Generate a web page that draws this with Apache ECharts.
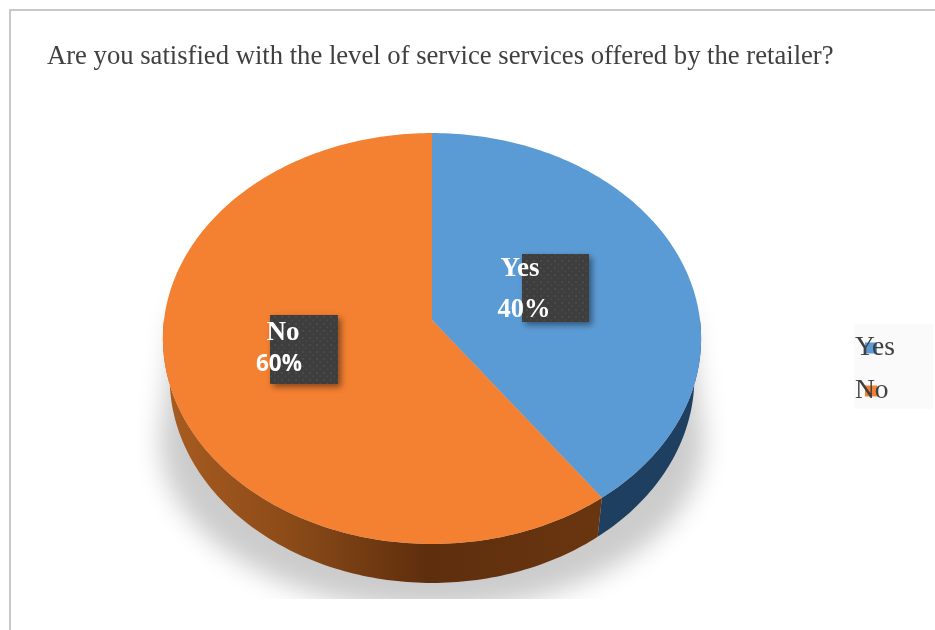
<!DOCTYPE html>
<html>
<head>
<meta charset="utf-8">
<style>html,body{margin:0;padding:0;background:#fff}#chart{width:935px;height:630px}</style>
<script src="https://cdn.jsdelivr.net/npm/echarts@6/dist/echarts.min.js"></script>
</head>
<body>
<div id="chart"></div>
<script>
// Survey answers
const titleText = 'Are you satisfied with the level of service services offered by the retailer?';
const categories = ['Yes', 'No'];
const values = [40, 60];
const topColors = ['#5B9BD5', '#F48031'];
const percentFonts = ['"Liberation Serif"', '"Open Sans"'];
const percentSizes = [26.5, 22.5];

// Perspective disc: a unit circle seen through a simple projective tilt
const CX = 432, CY = 320, A = 268, B = 203.8, K = 0.09, DEPTH = 39, BASE_SCALE = 0.975;
function project(deg) {
  const t = deg * Math.PI / 180;
  const u = Math.sin(t), v = -Math.cos(t);
  const w = 1 - K * v;
  return [CX + A * u / w, CY + B * v / w];
}
function arc(from, to) {
  const pts = [];
  const n = Math.max(2, Math.ceil(Math.abs(to - from)));
  for (let i = 0; i <= n; i++) pts.push(project(from + (to - from) * i / n));
  return pts;
}
// Lower edge of the rim: the same curve, dropped and narrowed by perspective
function baseArc(from, to) {
  return arc(from, to).map(p => [CX + (p[0] - CX) * BASE_SCALE, p[1] + DEPTH]);
}

// Faint dotted texture for the label plates
const dots = document.createElement('canvas');
dots.width = dots.height = 7;
const dc = dots.getContext('2d');
dc.fillStyle = '#3e3e3e';
dc.fillRect(0, 0, 7, 7);
dc.fillStyle = '#4a4a4a';
dc.fillRect(1, 1, 2, 2);
dc.fillRect(4.5, 4.5, 1.5, 1.5);

const sideFill = [
  '#1F3F60',
  {
    type: 'linear', x: 163, y: 0, x2: 604, y2: 0, global: true,
    colorStops: [
      { offset: 0, color: '#A95C20' },
      { offset: 0.3, color: '#8A4A18' },
      { offset: 0.6, color: '#5E2E0D' },
      { offset: 1, color: '#6A3610' }
    ]
  }
];
const plates = [[522, 254, 67, 68], [270, 315, 68, 69]];
const nameAt = [[520, 269], [283, 333]];
const percentAt = [[524, 310], [279, 365]];

const total = values.reduce((a, b) => a + b, 0);

function makeSeries(idx) {
  const before = values.slice(0, idx).reduce((a, b) => a + b, 0);
  return {
    type: 'custom',
    name: categories[idx],
    coordinateSystem: 'none',
    itemStyle: { color: topColors[idx] },
    data: [[values[idx]]],
    silent: true,
    renderItem(params, api) {
      const start = before / total * 360;
      const end = start + api.value(0) / total * 360;
      const children = [];
      // Visible rim: only the part of the slice facing the viewer
      const a = Math.max(start, 90), b = Math.min(end, 270);
      if (b > a) {
        children.push({
          type: 'polygon',
          shape: { points: arc(a, b).concat(baseArc(b, a)) },
          style: { fill: sideFill[idx] }
        });
      }
      children.push({
        type: 'polygon',
        shape: { points: [[CX, CY]].concat(arc(start, end)) },
        style: { fill: topColors[idx] }
      });
      const pl = plates[idx];
      children.push({
        type: 'rect',
        shape: { x: pl[0], y: pl[1], width: pl[2], height: pl[3] },
        style: {
          fill: { image: dots, repeat: 'repeat' },
          shadowColor: 'rgba(0,0,0,0.45)', shadowBlur: 6, shadowOffsetX: 3, shadowOffsetY: 3
        }
      });
      children.push({
        type: 'text',
        style: {
          x: nameAt[idx][0], y: nameAt[idx][1], text: categories[idx],
          fill: '#fff', align: 'center', verticalAlign: 'middle',
          font: 'bold 27px "Liberation Serif"'
        }
      });
      children.push({
        type: 'text',
        style: {
          x: percentAt[idx][0], y: percentAt[idx][1],
          text: Math.round(api.value(0) / total * 100) + '%',
          fill: '#fff', align: 'center', verticalAlign: 'middle',
          font: 'bold ' + percentSizes[idx] + 'px ' + percentFonts[idx]
        }
      });
      return { type: 'group', children };
    }
  };
}

// Soft cast shadow; the casting shape sits off-canvas so only its blur shows
const SHIFT = 1500;
const shadowPts = [[176 - SHIFT, 310], [688 - SHIFT, 310]];
for (let d = 90; d <= 270; d += 3) {
  const t = d * Math.PI / 180;
  shadowPts.push([432 - SHIFT + 272 * Math.sin(t), 440 - 170 * Math.cos(t)]);
}

const chart = echarts.init(document.getElementById('chart'), null, { renderer: 'canvas' });
chart.setOption({
  animation: false,
  backgroundColor: '#fff',
  title: {
    text: titleText, left: 42, top: 38,
    textStyle: { fontFamily: '"Liberation Serif"', fontSize: 26.65, fontWeight: 'normal', color: '#404040' }
  },
  legend: {
    orient: 'vertical', left: 855, top: 334, padding: 0,
    itemWidth: 12, itemHeight: 11, itemGap: 15,
    icon: 'rect', selectedMode: false,
    data: categories,
    textStyle: {
      fontFamily: '"Liberation Serif"', fontSize: 27.5, color: '#404040',
      padding: [0, 0, 0, -27]
    }
  },
  graphic: [
    { type: 'polygon', z: -3, silent: true, shape: { points: shadowPts },
      style: { fill: '#000', shadowColor: '#cccccc', shadowBlur: 26, shadowOffsetX: SHIFT } },
    { type: 'rect', z: -2, silent: true, shape: { x: 0, y: 599, width: 935, height: 31 }, style: { fill: '#fff' } },
    { type: 'rect', z: -2, silent: true, shape: { x: 854, y: 324, width: 79, height: 85 }, style: { fill: '#FAFAFA' } },
    { type: 'polyline', z: -1, silent: true, shape: { points: [[935, 10], [10, 10], [10, 630]] },
      style: { fill: 'none', stroke: '#C8C8C8', lineWidth: 2 } }
  ],
  series: categories.map((_, i) => makeSeries(i))
});
</script>
</body>
</html>
